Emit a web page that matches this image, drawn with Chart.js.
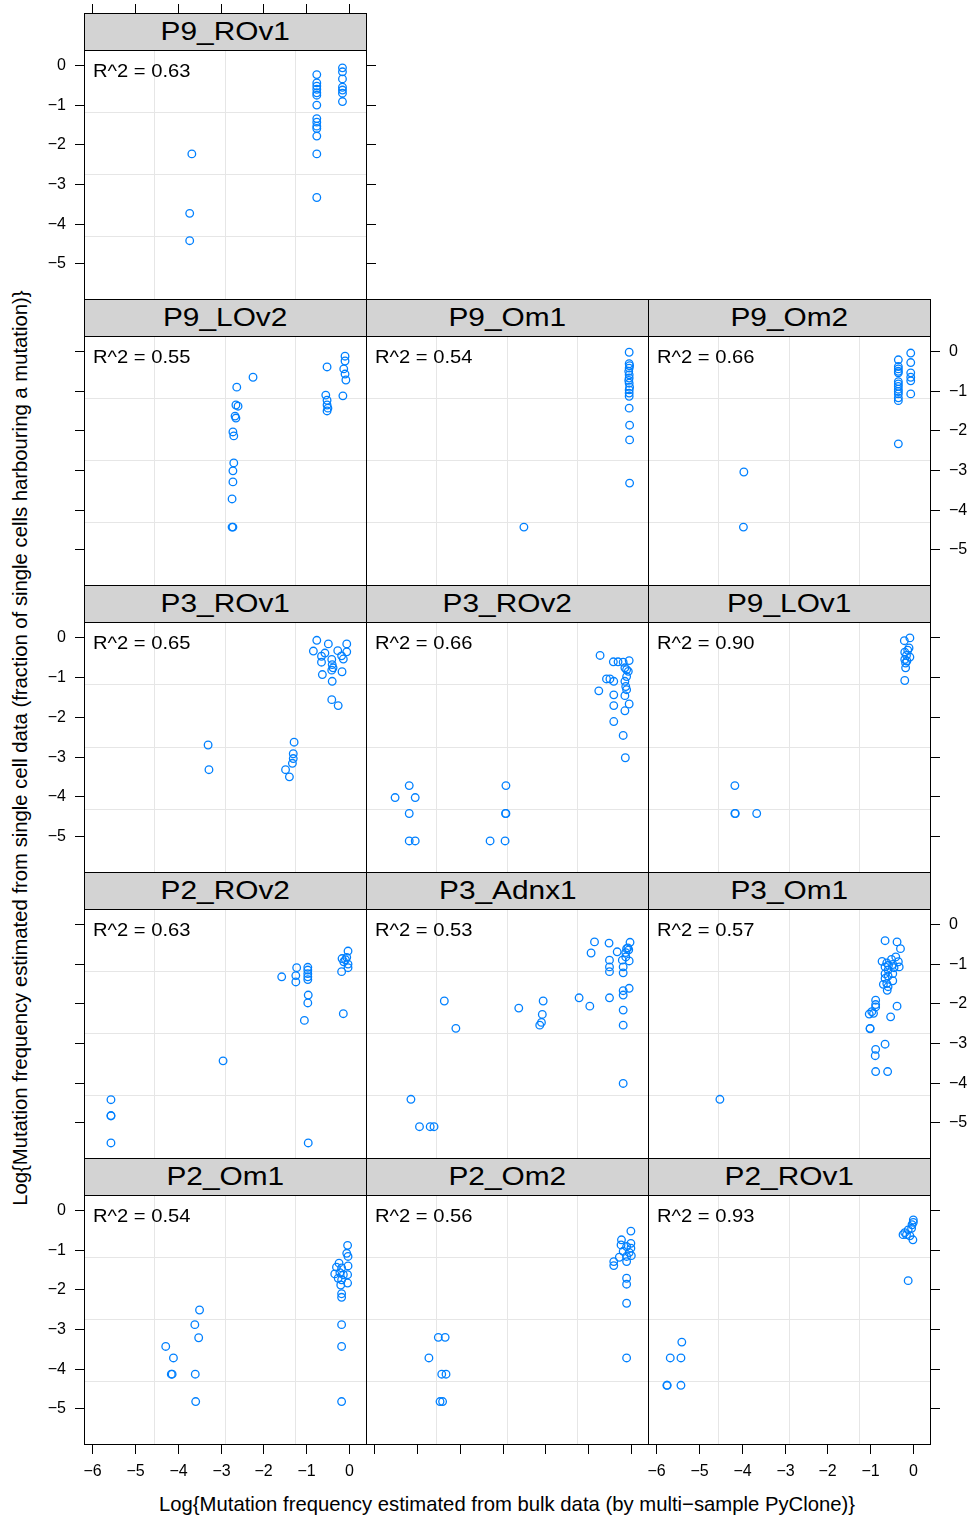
<!DOCTYPE html>
<html><head><meta charset="utf-8">
<script src="https://cdn.jsdelivr.net/npm/chart.js@4.4.0/dist/chart.umd.min.js"></script>
<style>
html,body{margin:0;padding:0;background:#fff;}
body{width:972px;height:1518px;position:relative;overflow:hidden;font-family:"Liberation Sans",Arial,sans-serif;}
canvas{position:absolute;}
.strip{position:absolute;box-sizing:border-box;border:1px solid #000;background:#d3d3d3;display:flex;align-items:center;justify-content:center;}
.strip span{display:inline-block;font-size:25.5px;transform:scaleX(1.17);color:#000;line-height:1;}
.r2{position:absolute;font-size:18px;transform-origin:left center;transform:scaleX(1.12);white-space:nowrap;z-index:5;line-height:1;}
.title{position:absolute;font-size:20.3px;white-space:nowrap;line-height:1;}
</style></head><body>
<script>
// ---------- data ----------
const panelNames = ["P9_ROv1","P9_LOv2","P9_Om1","P9_Om2","P3_ROv1","P3_ROv2","P9_LOv1","P2_ROv2","P3_Adnx1","P3_Om1","P2_Om1","P2_Om2","P2_ROv1"];
const r2Values = ["0.63","0.55","0.54","0.66","0.65","0.66","0.90","0.63","0.53","0.57","0.54","0.56","0.93"];
const xTicks = [-6,-5,-4,-3,-2,-1,0];
const xTickLabels = ["\u22126","\u22125","\u22124","\u22123","\u22122","\u22121","0"];
const yTicks = [0,-1,-2,-3,-4,-5];
const yTickLabels = ["0","\u22121","\u22122","\u22123","\u22124","\u22125"];
const xTitle = "Log{Mutation frequency estimated from bulk data (by multi\u2212sample PyClone)}";
const yTitle = "Log{Mutation frequency estimated from single cell data (fraction of single cells harbouring a mutation)}";

const p9_rov1_x = [-3.67,-3.72,-3.72,-0.75,-0.75,-0.75,-0.75,-0.75,-0.75,-0.75,-0.75,-0.75,-0.75,-0.75,-0.75,-0.75,-0.75,-0.15,-0.15,-0.15,-0.15,-0.15,-0.15,-0.15];
const p9_rov1_y = [-2.24,-3.74,-4.43,-0.24,-0.45,-0.53,-0.61,-0.70,-0.76,-1.01,-1.35,-1.44,-1.54,-1.60,-1.79,-2.24,-3.34,-0.07,-0.17,-0.35,-0.56,-0.63,-0.71,-0.92];

const p9_lov2_x = [-2.62,-2.24,-2.64,-2.59,-2.66,-2.64,-2.71,-2.69,-2.69,-2.71,-2.71,-2.73,-2.73,-2.71,-0.51,-0.54,-0.51,-0.51,-0.51,-0.49,-0.09,-0.09,-0.12,-0.09,-0.07,-0.14];
const p9_lov2_y = [-0.91,-0.66,-1.36,-1.39,-1.64,-1.69,-2.04,-2.14,-2.82,-3.02,-3.30,-3.73,-4.44,-4.44,-0.40,-1.11,-1.24,-1.36,-1.51,-1.44,-0.13,-0.25,-0.45,-0.58,-0.73,-1.13];

const p9_om1_x = [-0.04,-0.04,-0.03,-0.04,-0.05,-0.04,-0.04,-0.05,-0.04,-0.03,-0.04,-0.04,-0.04,-0.04,-0.03,-0.03,-0.03,-2.50];
const p9_om1_y = [-0.03,-0.32,-0.37,-0.43,-0.51,-0.60,-0.68,-0.74,-0.81,-0.91,-0.98,-1.06,-1.14,-1.44,-1.87,-2.24,-3.33,-4.44];

const p9_om2_x = [-0.34,-0.34,-0.34,-0.34,-0.34,-0.34,-0.34,-0.34,-0.34,-0.34,-0.34,-0.34,-0.34,-0.34,-0.05,-0.05,-0.05,-0.05,-0.05,-0.05,-3.95,-3.96];
const p9_om2_y = [-0.22,-0.39,-0.45,-0.51,-0.55,-0.77,-0.83,-0.89,-0.96,-1.02,-1.08,-1.18,-1.25,-2.34,-0.05,-0.29,-0.55,-0.66,-0.75,-1.08,-3.05,-4.44];

const p3_rov1_x = [-0.75,-0.48,-0.05,-0.83,-0.56,-0.26,-0.05,-0.64,-0.17,-0.40,-0.13,-0.64,-0.39,-0.37,-0.40,-0.16,-0.62,-0.39,-0.40,-0.25,-3.29,-3.27,-1.28,-1.30,-1.30,-1.32,-1.48,-1.39];
const p3_rov1_y = [-0.08,-0.17,-0.17,-0.35,-0.40,-0.34,-0.37,-0.48,-0.47,-0.56,-0.55,-0.63,-0.69,-0.77,-0.83,-0.87,-0.94,-1.11,-1.57,-1.72,-2.71,-3.33,-2.64,-2.93,-3.05,-3.17,-3.33,-3.51];

const p3_rov2_x = [-0.72,-0.41,-0.30,-0.18,-0.04,-0.14,-0.10,-0.06,-0.57,-0.49,-0.40,-0.10,-0.14,-0.12,-0.75,-0.40,-0.10,-0.14,-0.40,-0.04,-0.14,-0.40,-0.18,-0.13,-5.18,-5.51,-5.04,-5.18,-5.18,-5.04,-2.92,-2.92,-2.93,-3.29,-2.94];
const p3_rov2_y = [-0.46,-0.62,-0.62,-0.63,-0.59,-0.77,-0.82,-0.86,-1.05,-1.05,-1.11,-0.99,-1.11,-1.24,-1.35,-1.45,-1.32,-1.47,-1.72,-1.68,-1.85,-2.12,-2.47,-3.03,-3.73,-4.03,-4.03,-4.43,-5.12,-5.12,-3.73,-4.43,-4.43,-5.12,-5.12];

const p9_lov1_x = [-0.07,-0.20,-0.09,-0.19,-0.07,-0.19,-0.15,-0.17,-0.17,-0.19,-0.12,-0.14,-4.16,-4.16,-4.15,-3.65];
const p9_lov1_y = [-0.02,-0.09,-0.27,-0.38,-0.50,-0.56,-0.46,-0.65,-0.77,-1.09,-0.33,-0.60,-3.73,-4.43,-4.43,-4.43];

const p2_rov2_x = [-5.56,-5.56,-5.56,-5.56,-2.94,-1.57,-1.22,-1.24,-1.24,-0.96,-0.96,-0.96,-0.96,-0.96,-0.95,-0.96,-1.04,-0.95,-0.02,-0.16,-0.17,-0.05,-0.02,-0.02,-0.12,-0.13,-0.08];
const p2_rov2_y = [-4.43,-4.83,-4.84,-5.52,-3.45,-1.33,-1.10,-1.30,-1.46,-1.09,-1.16,-1.25,-1.33,-1.40,-1.79,-1.99,-2.43,-5.52,-0.68,-0.87,-1.20,-0.84,-1.01,-1.10,-0.95,-2.26,-0.90];

const p3_adnx1_x = [-5.14,-4.94,-4.69,-4.60,-4.36,-4.09,-2.62,-2.05,-2.07,-2.09,-2.13,-1.21,-0.96,-0.50,-0.18,-0.18,-0.18,-0.18,-0.18,-0.04,-0.85,-0.51,-0.93,-0.32,-0.02,-0.10,-0.05,-0.12,-0.07,-0.50,-0.50,-0.50,-0.20,-0.18,-0.18,-0.04,-0.12];
const p3_adnx1_y = [-4.42,-5.11,-5.11,-5.11,-1.94,-2.63,-2.12,-1.94,-2.28,-2.48,-2.55,-1.86,-2.07,-1.86,-2.17,-2.55,-4.02,-1.79,-1.68,-1.62,-0.45,-0.48,-0.73,-0.70,-0.46,-0.62,-0.65,-0.72,-0.60,-0.91,-1.08,-1.20,-0.91,-1.08,-1.23,-0.93,-0.83];

const p3_om1_x = [-4.51,-0.65,-0.37,-0.29,-0.72,-0.40,-0.50,-0.61,-0.34,-0.32,-0.57,-0.47,-0.65,-0.44,-0.58,-0.65,-0.47,-0.58,-0.65,-0.47,-0.61,-0.69,-0.58,-0.60,-0.87,-0.87,-0.87,-0.96,-1.02,-0.92,-0.37,-0.52,-1.00,-1.00,-0.65,-0.87,-0.88,-0.87,-0.59];
const p3_om1_y = [-4.42,-0.42,-0.45,-0.62,-0.94,-0.83,-0.89,-0.98,-0.95,-1.08,-1.04,-1.02,-1.08,-1.10,-1.16,-1.25,-1.25,-1.31,-1.37,-1.43,-1.50,-1.52,-1.58,-1.67,-1.92,-2.03,-2.09,-2.21,-2.27,-2.25,-2.07,-2.34,-2.63,-2.64,-3.03,-3.16,-3.32,-3.72,-3.72];

const p2_om1_x = [-4.28,-4.10,-4.15,-4.13,-3.60,-3.49,-3.51,-3.59,-3.58,-0.03,-0.05,-0.02,-0.02,-0.03,-0.03,-0.23,-0.29,-0.17,-0.33,-0.21,-0.13,-0.25,-0.17,-0.19,-0.17,-0.17,-0.17,-0.17,-0.17];
const p2_om1_y = [-3.44,-3.73,-4.14,-4.14,-2.89,-2.52,-3.22,-4.14,-4.83,-0.89,-1.09,-1.17,-1.41,-1.63,-1.84,-1.34,-1.44,-1.46,-1.61,-1.58,-1.63,-1.72,-1.76,-1.89,-2.11,-2.20,-2.89,-3.44,-4.83];

const p2_om2_x = [-4.50,-4.34,-4.72,-4.42,-4.32,-4.46,-4.40,0.00,-0.22,0.00,-0.23,-0.10,0.00,-0.18,-0.04,0.01,-0.10,-0.27,-0.40,-0.40,-0.10,-0.10,-0.10,-0.10,-0.10];
const p2_om2_y = [-3.21,-3.21,-3.73,-4.14,-4.14,-4.83,-4.83,-0.53,-0.75,-0.84,-0.88,-0.92,-0.96,-1.04,-1.07,-1.15,-1.17,-1.19,-1.30,-1.40,-1.30,-1.72,-1.87,-2.35,-3.73];

const p2_rov1_x = [-5.40,-5.67,-5.42,-5.75,-5.74,-5.42,0.01,0.01,-0.02,-0.03,-0.11,-0.19,-0.15,-0.07,0.00,-0.23,-0.11];
const p2_rov1_y = [-3.33,-3.73,-3.73,-4.42,-4.42,-4.42,-0.25,-0.31,-0.37,-0.46,-0.50,-0.57,-0.62,-0.65,-0.75,-0.62,-1.78];

const panelX = [p9_rov1_x,p9_lov2_x,p9_om1_x,p9_om2_x,p3_rov1_x,p3_rov2_x,p9_lov1_x,p2_rov2_x,p3_adnx1_x,p3_om1_x,p2_om1_x,p2_om2_x,p2_rov1_x];
const panelY = [p9_rov1_y,p9_lov2_y,p9_om1_y,p9_om2_y,p3_rov1_y,p3_rov2_y,p9_lov1_y,p2_rov2_y,p3_adnx1_y,p3_om1_y,p2_om1_y,p2_om2_y,p2_rov1_y];

// ---------- layout ----------
const XMIN = -6.19, XMAX = 0.40, YMIN = -5.90, YMAX = 0.38;
const colLeft = [84, 366, 648];
const PW = 282;
const rowTop = [13, 299, 585, 872, 1158];
const STRIP = 37;
const plotBottom = 1444;
const panelPos = [[0,0],[1,0],[1,1],[1,2],[2,0],[2,1],[2,2],[3,0],[3,1],[3,2],[4,0],[4,1],[4,2]];
const panelAxes = [
  {left:'labels', right:'ticks', top:'ticks'},
  {left:'ticks'}, {}, {right:'labels'},
  {left:'labels'}, {}, {right:'ticks'},
  {left:'ticks'}, {}, {right:'labels'},
  {left:'labels', bottom:'labels'}, {bottom:'ticks'}, {right:'ticks', bottom:'labels'}
];
const PAD = {left:45, right:42, top:50, bottom:45};
const TICK = 9;
const tickFont = '16px "Liberation Sans", Arial, sans-serif';

const latticePlugin = {
  id: 'lattice',
  afterDraw(chart, args, opts) {
    const {ctx, chartArea: a, scales} = chart;
    const sx = scales.x, sy = scales.y;
    const L = Math.round(a.left), R = Math.round(a.right), T = Math.round(a.top), B = Math.round(a.bottom);
    ctx.save();
    ctx.strokeStyle = '#000'; ctx.lineWidth = 1; ctx.fillStyle = '#000';
    ctx.strokeRect(L + 0.5, T + 0.5, R - L, B - T);
    ctx.font = tickFont;
    const line = (x1, y1, x2, y2) => { ctx.beginPath(); ctx.moveTo(x1, y1); ctx.lineTo(x2, y2); ctx.stroke(); };
    const ax = opts.axes || {};
    if (ax.left) yTicks.forEach((v, i) => {
      const y = Math.round(sy.getPixelForValue(v)) + 0.5;
      line(L - TICK, y, L, y);
      if (ax.left === 'labels') { ctx.textAlign = 'right'; ctx.textBaseline = 'middle'; ctx.fillText(yTickLabels[i], L - 18, y); }
    });
    if (ax.right) yTicks.forEach((v, i) => {
      const y = Math.round(sy.getPixelForValue(v)) + 0.5;
      line(R + 1, y, R + 1 + TICK, y);
      if (ax.right === 'labels') { ctx.textAlign = 'left'; ctx.textBaseline = 'middle'; ctx.fillText(yTickLabels[i], R + 19, y); }
    });
    if (ax.top) xTicks.forEach((v) => {
      const x = Math.round(sx.getPixelForValue(v)) + 0.5;
      line(x, T - STRIP - TICK, x, T - STRIP);
    });
    if (ax.bottom) xTicks.forEach((v, i) => {
      const x = Math.round(sx.getPixelForValue(v)) + 0.5;
      line(x, B + 1, x, B + 1 + TICK);
      if (ax.bottom === 'labels') { ctx.textAlign = 'center'; ctx.textBaseline = 'middle'; ctx.fillText(xTickLabels[i], x, B + 28); }
    });
    ctx.restore();
  }
};

panelNames.forEach((name, i) => {
  const [r, c] = panelPos[i];
  const left = colLeft[c];
  const top = rowTop[r];
  const pTop = top + STRIP;
  const pBottom = (r < rowTop.length - 1) ? rowTop[r + 1] : plotBottom;
  const PH = pBottom - pTop;

  const strip = document.createElement('div');
  strip.className = 'strip';
  strip.style.left = left + 'px'; strip.style.top = top + 'px';
  strip.style.width = (PW + 1) + 'px'; strip.style.height = (STRIP + 1) + 'px';
  strip.innerHTML = '<span>' + name + '</span>';
  document.body.appendChild(strip);

  const cv = document.createElement('canvas');
  const cw = PW + PAD.left + PAD.right, ch = PH + PAD.top + PAD.bottom;
  cv.width = cw; cv.height = ch;
  cv.style.width = cw + 'px'; cv.style.height = ch + 'px';
  cv.style.left = (left - PAD.left) + 'px'; cv.style.top = (pTop - PAD.top) + 'px';
  document.body.appendChild(cv);

  const r2 = document.createElement('div');
  r2.className = 'r2';
  r2.textContent = 'R^2 = ' + r2Values[i];
  r2.style.left = (left + 9) + 'px'; r2.style.top = (pTop + 12) + 'px';
  document.body.appendChild(r2);

  const pts = panelX[i].map((x, k) => ({x: x, y: panelY[i][k]}));
  new Chart(cv, {
    type: 'scatter',
    data: { datasets: [{ data: pts, pointStyle: 'circle', pointRadius: 3.8, pointBorderWidth: 1.3,
      pointBorderColor: '#0080ff', pointBackgroundColor: 'rgba(0,0,0,0)', borderColor: '#0080ff', backgroundColor: 'rgba(0,0,0,0)' }] },
    options: {
      responsive: false, animation: false, events: [],
      layout: { padding: PAD },
      plugins: { legend: {display: false}, tooltip: {enabled: false}, title: {display: false}, lattice: { axes: panelAxes[i] } },
      scales: {
        x: { type: 'linear', min: XMIN, max: XMAX, display: false },
        y: { type: 'linear', min: YMIN, max: YMAX, display: false },
        gx: { type: 'linear', axis: 'x', position: 'bottom', min: 0, max: 1,
              ticks: { display: false, stepSize: 0.25 }, grid: { color: '#e6e6e6', lineWidth: 1, drawTicks: false }, border: { display: false } },
        gy: { type: 'linear', axis: 'y', position: 'left', min: 0, max: 1,
              ticks: { display: false, stepSize: 0.25 }, grid: { color: '#e6e6e6', lineWidth: 1, drawTicks: false }, border: { display: false } }
      }
    },
    plugins: [latticePlugin]
  });
});

const xt = document.createElement('div');
xt.className = 'title'; xt.textContent = xTitle;
document.body.appendChild(xt);
xt.style.left = (507 - xt.offsetWidth / 2) + 'px';
xt.style.top = (1504 - xt.offsetHeight / 2) + 'px';

const yt = document.createElement('div');
yt.className = 'title'; yt.textContent = yTitle;
document.body.appendChild(yt);
yt.style.left = (19 - yt.offsetWidth / 2) + 'px';
yt.style.top = (748 - yt.offsetHeight / 2) + 'px';
yt.style.transform = 'rotate(-90deg)';
</script>
</body></html>
